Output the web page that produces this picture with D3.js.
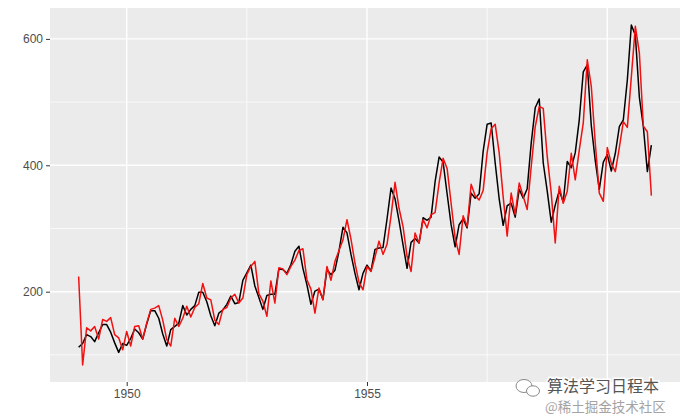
<!DOCTYPE html>
<html>
<head>
<meta charset="utf-8">
<script src="https://cdn.jsdelivr.net/npm/d3@7"></script>
<style>
  body { margin: 0; background: #fff; }
  text { font-family: "Liberation Sans", Arial, sans-serif; }
</style>
</head>
<body>
<svg id="chart" width="686" height="420"></svg>
<script>
// monthly AirPassengers, Jan 1949 .. Dec 1960
const startYear = 1949;
const passengers = [
  112, 118, 132, 129, 121, 135, 148, 148, 136, 119, 104, 118,
  115, 126, 141, 135, 125, 149, 170, 170, 158, 133, 114, 140,
  145, 150, 178, 163, 172, 178, 199, 199, 184, 162, 146, 166,
  171, 180, 193, 181, 183, 218, 230, 242, 209, 191, 172, 194,
  196, 196, 236, 235, 229, 243, 264, 272, 237, 211, 180, 201,
  204, 188, 235, 227, 234, 264, 302, 293, 259, 229, 203, 229,
  242, 233, 267, 269, 270, 315, 364, 347, 312, 274, 237, 278,
  284, 277, 317, 313, 318, 374, 413, 405, 355, 306, 271, 306,
  315, 301, 356, 348, 355, 422, 465, 467, 404, 347, 305, 336,
  340, 318, 362, 348, 363, 435, 491, 505, 404, 359, 310, 337,
  360, 342, 406, 396, 420, 472, 548, 559, 463, 407, 362, 405,
  417, 391, 419, 461, 472, 535, 622, 606, 508, 461, 390, 432
];
// fitted values (red)
const fitted = [
  224, 84, 143, 138, 145, 125, 156, 153, 159, 132, 127, 108,
  137, 114, 145, 146, 125, 150, 172, 174, 178, 155, 124, 114,
  158, 145, 158, 177, 160, 175, 181, 213, 190, 187, 155, 148,
  172, 175, 190, 196, 182, 190, 227, 240, 248, 197, 185, 161,
  217, 182, 238, 236, 227, 240, 250, 265, 268, 219, 204, 166,
  206, 187, 240, 218, 248, 265, 282, 314, 283, 245, 215, 203,
  240, 232, 255, 280, 259, 275, 320, 373, 332, 303, 256, 232,
  293, 277, 314, 301, 322, 325, 372, 411, 395, 340, 285, 259,
  320, 303, 370, 352, 345, 360, 420, 458, 465, 420, 350, 288,
  356, 322, 372, 351, 330, 398, 461, 493, 490, 414, 356, 277,
  367, 340, 359, 419, 377, 424, 467, 567, 525, 435, 356, 343,
  428, 403, 390, 428, 469, 460, 540, 620, 578, 462, 453, 352
];
const xBreaks = [1950, 1955, 1960];
const xLabels = ["1950", "1955", ""]; // 1960 label sits under the watermark
const xMinor = [1952.5, 1957.5];
const yBreaks = [200, 400, 600];
const yMinor = [100, 300, 500];

const panel = { left: 50, right: 680, top: 8, bottom: 382 };

const toSeries = vals => vals.map((v, i) => ({ t: startYear + i / 12, v }));
const actual = toSeries(passengers);
const fit = toSeries(fitted);

// ggplot style 5% expansion
function expand([a, b]) {
  const pad = (b - a) * 0.05;
  return [a - pad, b + pad];
}

const x = d3.scaleLinear()
  .domain(expand(d3.extent(actual, d => d.t)))
  .range([panel.left, panel.right]);

const y = d3.scaleLinear()
  .domain(expand(d3.extent(passengers.concat(fitted))))
  .range([panel.bottom, panel.top]);

const svg = d3.select("#chart");

svg.append("rect")
  .attr("x", panel.left).attr("y", panel.top)
  .attr("width", panel.right - panel.left)
  .attr("height", panel.bottom - panel.top)
  .attr("fill", "#EBEBEB");

const grid = svg.append("g");
grid.selectAll(".ymin").data(yMinor).join("line")
  .attr("x1", panel.left).attr("x2", panel.right)
  .attr("y1", d => y(d)).attr("y2", d => y(d))
  .attr("stroke", "#fff").attr("stroke-width", 0.7);
grid.selectAll(".xmin").data(xMinor).join("line")
  .attr("y1", panel.top).attr("y2", panel.bottom)
  .attr("x1", d => x(d)).attr("x2", d => x(d))
  .attr("stroke", "#fff").attr("stroke-width", 0.7);
grid.selectAll(".ymaj").data(yBreaks).join("line")
  .attr("x1", panel.left).attr("x2", panel.right)
  .attr("y1", d => y(d)).attr("y2", d => y(d))
  .attr("stroke", "#fff").attr("stroke-width", 1.4);
grid.selectAll(".xmaj").data(xBreaks).join("line")
  .attr("y1", panel.top).attr("y2", panel.bottom)
  .attr("x1", d => x(d)).attr("x2", d => x(d))
  .attr("stroke", "#fff").attr("stroke-width", 1.4);

const line = d3.line().x(d => x(d.t)).y(d => y(d.v));

svg.append("path").datum(actual)
  .attr("d", line).attr("fill", "none")
  .attr("stroke", "#000").attr("stroke-width", 1.5)
  .attr("stroke-linejoin", "round");

svg.append("path").datum(fit)
  .attr("d", line).attr("fill", "none")
  .attr("stroke", "#F21010").attr("stroke-width", 1.5)
  .attr("stroke-linejoin", "round");

// axes
const xAxis = svg.append("g")
  .attr("transform", `translate(0,${panel.bottom})`)
  .call(d3.axisBottom(x).tickValues(xBreaks)
    .tickFormat((d, i) => xLabels[i]).tickSize(4).tickPadding(3));
const yAxis = svg.append("g")
  .attr("transform", `translate(${panel.left},0)`)
  .call(d3.axisLeft(y).tickValues(yBreaks).tickSize(4).tickPadding(3));

[xAxis, yAxis].forEach(a => {
  a.select(".domain").remove();
  a.selectAll(".tick line").attr("stroke", "#333").attr("stroke-width", 1);
  a.selectAll(".tick text").attr("fill", "#4D4D4D")
    .style("font-size", "12px")
    .style("font-family", "'Liberation Sans', Arial, sans-serif");
});
xAxis.selectAll(".tick text").filter(t => t === 1960).remove();

// watermark in the lower right corner
const wm = svg.append("g");
wm.append("ellipse").attr("cx", 524).attr("cy", 386).attr("rx", 8).attr("ry", 6.5)
  .attr("fill", "#fff").attr("stroke", "#888").attr("stroke-width", 1);
wm.append("ellipse").attr("cx", 533).attr("cy", 391).attr("rx", 6.5).attr("ry", 5.2)
  .attr("fill", "#fff").attr("stroke", "#888").attr("stroke-width", 1);
wm.append("text").attr("x", 547).attr("y", 392)
  .text("算法学习日程本")
  .style("font-family", "'Noto Sans CJK SC', sans-serif")
  .style("font-size", "16px")
  .attr("fill", "#555")
  .attr("stroke", "#fff").attr("stroke-width", 3)
  .attr("paint-order", "stroke");
wm.append("text").attr("x", 545).attr("y", 412)
  .text("@稀土掘金技术社区")
  .style("font-family", "'Noto Sans CJK SC', sans-serif")
  .style("font-size", "13.5px")
  .attr("fill", "#9a9a9a")
  .attr("opacity", 0.9);
</script>
</body>
</html>
